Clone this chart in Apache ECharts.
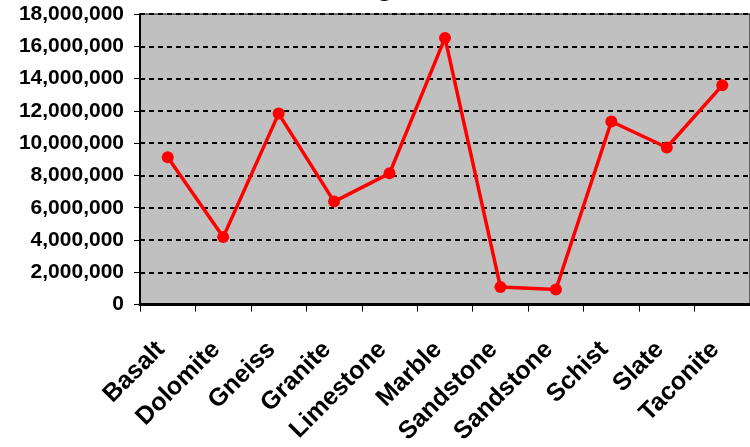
<!DOCTYPE html>
<html>
<head>
<meta charset="utf-8">
<script src="https://cdn.jsdelivr.net/npm/echarts@6/dist/echarts.min.js"></script>
<style>html,body{margin:0;padding:0;background:#fff}#c{width:750px;height:447px}</style>
</head>
<body>
<div id="c"></div>
<script>
const categories = ['Basalt','Dolomite','Gneiss','Granite','Limestone','Marble','Sandstone','Sandstone','Schist','Slate','Taconite'];
const values = [9120000, 4180000, 11830000, 6380000, 8130000, 16520000, 1090000, 940000, 11340000, 9730000, 13580000];
const titleText = 'Tonnage';
const yMin = 0, yMax = 18000000, yStep = 2000000;

const chart = echarts.init(document.getElementById('c'), null, {renderer: 'canvas'});
const font = 'Arial, "Liberation Sans", sans-serif';
chart.setOption({
  animation: false,
  backgroundColor: '#ffffff',
  title: {
    text: titleText,
    left: 283, top: -33,
    textStyle: {fontFamily: font, fontWeight: 'bold', fontSize: 30, color: '#000'}
  },
  grid: {
    left: 140, top: 14, width: 616, bottom: 141,
    show: true, backgroundColor: '#C0C0C0', borderColor: '#000', borderWidth: 1
  },
  xAxis: {
    type: 'category',
    data: categories,
    boundaryGap: true,
    axisLine: {lineStyle: {color: '#000', width: 3}},
    axisTick: {show: true, length: 7, lineStyle: {color: '#000', width: 1}},
    axisLabel: {
      rotate: 45, margin: 34, interval: 0, padding: [0, 10, 0, 0],
      fontFamily: font, fontWeight: 'bold', fontSize: 25, color: '#000'
    },
    splitLine: {show: false}
  },
  yAxis: {
    type: 'value',
    min: yMin, max: yMax, interval: yStep,
    axisLine: {show: true, lineStyle: {color: '#000', width: 2}},
    axisTick: {show: true, length: 6, lineStyle: {color: '#000', width: 1}},
    axisLabel: {
      margin: 16,
      fontFamily: font, fontWeight: 'bold', fontSize: 21, color: '#000',
      formatter: v => v.toLocaleString('en-US')
    },
    splitLine: {show: true, lineStyle: {color: '#000', type: [5, 4], width: 2}}
  },
  series: [{
    type: 'line',
    data: values,
    symbol: 'circle',
    symbolSize: 12,
    lineStyle: {color: '#FF0000', width: 3.5},
    itemStyle: {color: '#FF0000'}
  }]
});
</script>
</body>
</html>
